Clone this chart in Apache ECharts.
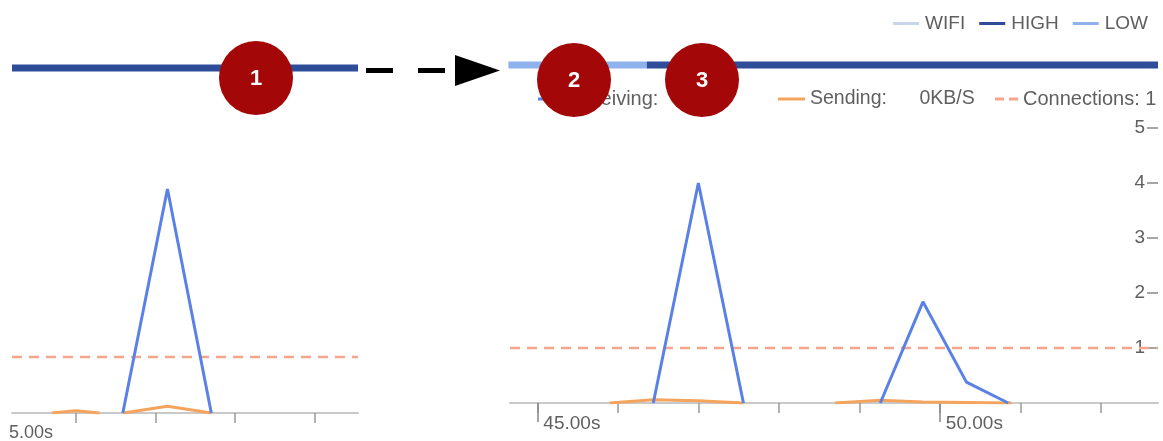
<!DOCTYPE html>
<html>
<head>
<meta charset="utf-8">
<script src="https://cdn.jsdelivr.net/npm/echarts@6/dist/echarts.min.js"></script>
<style>
  html, body { margin: 0; padding: 0; background: #fff; }
  #chart { width: 1163px; height: 441px; }
</style>
</head>
<body>
<div id="chart"></div>
<script>
// left panel (earlier time window)
const leftRange = [35.2, 39.54];
const leftTicks = [36, 37, 38, 39];
const leftRecvTimes = [36.59, 37.15, 37.7];
const leftRecvValues = [0, 4, 0];
const leftSendTimes = [35.7, 36.0, 36.3, 36.45, 36.6, 37.15, 37.7];
const leftSendValues = [0, 0.04, 0, '-', 0, 0.12, 0];
const leftHigh = [35.2, 39.54];

// right panel (later time window)
const rightRange = [44.66, 52.71];
const rightTicks = [45, 46, 47, 48, 49, 50, 51, 52];
const rightMajorTicks = [45, 50];
const rightRecvTimes = [46.44, 47.0, 47.56, 48.2, 49.26, 49.79, 50.33, 50.85];
const rightRecvValues = [0, 4, 0, '-', 0, 1.84, 0.38, 0];
const rightSendTimes = [45.9, 46.44, 47.0, 47.56, 48.2, 48.7, 49.26, 49.79, 50.33, 50.89];
const rightSendValues = [0, 0.06, 0.04, 0, '-', 0, 0.05, 0.02, 0.01, 0];
const rightLow = [44.64, 46.36];
const rightHigh = [46.36, 52.71];
const yTicks = [1, 2, 3, 4, 5];
const connections = 1;

const FONT = 'Liberation Sans';
const BLUE = '#5b80e6';
const ORANGE = '#f5a45e';
const SALMON = '#f6a58d';
const HIGH_C = '#2f4c98';
const LOW_C = '#8fb1ec';
const WIFI_C = '#c8d5e8';
const TEXT_C = '#5f5f5f';

function zip(xs, ys) {
  return xs.map((x, i) => [x, ys[i]]);
}

var myChart = echarts.init(document.getElementById('chart'));

myChart.setOption({
  animation: false,
  textStyle: { fontFamily: FONT },
  grid: [
    { left: 12, width: 346, top: 133, height: 280 },   // 左边主图
    { left: 510, right: 5, top: 128, height: 275 },    // 右边主图
    { left: 12, width: 346, top: 64, height: 8 },      // 左边状态条
    { left: 510, right: 5, top: 61, height: 8 }        // 右边状态条
  ],
  legend: [
    {
      data: ['WIFI', 'HIGH', 'LOW'],
      right: 10, top: 9,
      icon: 'rect', itemWidth: 26, itemHeight: 3, itemGap: 14,
      textStyle: { fontSize: 19, color: TEXT_C, fontFamily: FONT, padding: [0, 0, 0, 1] }
    },
    {
      data: ['Receiving'], left: 533, top: 84,
      icon: 'rect', itemWidth: 22, itemHeight: 3,
      formatter: () => 'Receiving:   0KB/S',
      textStyle: { fontSize: 20, color: TEXT_C, fontFamily: FONT }
    },
    {
      data: ['Sending'], left: 773, top: 84,
      icon: 'rect', itemWidth: 27, itemHeight: 3,
      formatter: () => 'Sending:      0KB/S',
      textStyle: { fontSize: 19.5, color: TEXT_C, fontFamily: FONT }
    },
    {
      data: ['Connections'], left: 990, top: 84,
      icon: 'path://M0,0h9v3h-9z M14,0h9v3h-9z',
      itemWidth: 23, itemHeight: 3,
      formatter: () => 'Connections: ' + connections,
      textStyle: { fontSize: 20, color: TEXT_C, fontFamily: FONT }
    }
  ],
  xAxis: [
    {
      type: 'value', gridIndex: 0, min: leftRange[0], max: leftRange[1],
      splitLine: { show: false },
      axisLine: { lineStyle: { color: '#c9c9c9', width: 2 } },
      axisTick: { customValues: leftTicks, length: 10, lineStyle: { color: '#999', width: 1.5 } },
      axisLabel: { show: false }
    },
    {
      type: 'value', gridIndex: 1, min: rightRange[0], max: rightRange[1], position: 'bottom',
      splitLine: { show: false },
      axisLine: { lineStyle: { color: '#c9c9c9', width: 2 } },
      axisTick: { customValues: rightTicks, length: 10, lineStyle: { color: '#999', width: 1.5 } },
      axisLabel: { show: false }
    },
    {
      type: 'value', gridIndex: 1, min: rightRange[0], max: rightRange[1], position: 'bottom', offset: 0,
      splitLine: { show: false },
      axisLine: { show: false },
      axisTick: { customValues: rightMajorTicks, length: 19, lineStyle: { color: '#888', width: 1.5 } },
      axisLabel: {
        customValues: rightMajorTicks,
        formatter: v => v.toFixed(2) + 's',
        align: 'left', padding: [0, 0, 0, 6], margin: 11,
        fontSize: 19, color: TEXT_C, fontFamily: FONT
      }
    },
    { type: 'value', gridIndex: 2, min: leftRange[0], max: leftRange[1], show: false },
    { type: 'value', gridIndex: 3, min: rightRange[0], max: rightRange[1], show: false }
  ],
  yAxis: [
    { type: 'value', gridIndex: 0, min: 0, max: 5, show: false },
    {
      type: 'value', gridIndex: 1, min: 0, max: 5, position: 'right',
      splitLine: { show: false },
      axisLine: { show: false },
      axisTick: { show: true, inside: true, customValues: yTicks, length: 11, lineStyle: { color: '#888', width: 1.5 } },
      axisLabel: { inside: true, customValues: yTicks, margin: 13, fontSize: 19, color: TEXT_C, fontFamily: FONT }
    },
    { type: 'value', gridIndex: 2, min: -1, max: 1, show: false },
    { type: 'value', gridIndex: 3, min: -1, max: 1, show: false }
  ],
  series: [
    // 状态条
    { name: 'WIFI', type: 'line', xAxisIndex: 4, yAxisIndex: 3, data: [], color: WIFI_C },
    {
      name: 'HIGH', type: 'line', xAxisIndex: 3, yAxisIndex: 2, symbol: 'none', color: HIGH_C,
      lineStyle: { width: 7, cap: 'butt' }, data: leftHigh.map(t => [t, 0])
    },
    {
      name: 'LOW', type: 'line', xAxisIndex: 4, yAxisIndex: 3, symbol: 'none', color: LOW_C,
      lineStyle: { width: 7, cap: 'butt' }, data: rightLow.map(t => [t, 0])
    },
    {
      name: 'HIGH', type: 'line', xAxisIndex: 4, yAxisIndex: 3, symbol: 'none', color: HIGH_C,
      lineStyle: { width: 7, cap: 'butt' }, data: rightHigh.map(t => [t, 0])
    },
    // 连接数虚线
    {
      name: 'Connections', type: 'line', xAxisIndex: 0, yAxisIndex: 0, symbol: 'none', color: SALMON,
      lineStyle: { width: 2.5, type: [10, 7] }, data: leftRange.map(t => [t, connections])
    },
    {
      name: 'Connections', type: 'line', xAxisIndex: 1, yAxisIndex: 1, symbol: 'none', color: SALMON,
      lineStyle: { width: 2.5, type: [10, 7] }, data: rightRange.map(t => [t, connections])
    },
    // 发送
    {
      name: 'Sending', type: 'line', xAxisIndex: 0, yAxisIndex: 0, symbol: 'none', color: ORANGE,
      lineStyle: { width: 3 }, data: zip(leftSendTimes, leftSendValues)
    },
    {
      name: 'Sending', type: 'line', xAxisIndex: 1, yAxisIndex: 1, symbol: 'none', color: ORANGE,
      lineStyle: { width: 3 }, data: zip(rightSendTimes, rightSendValues)
    },
    // 接收
    {
      name: 'Receiving', type: 'line', xAxisIndex: 0, yAxisIndex: 0, symbol: 'none', color: BLUE,
      lineStyle: { width: 3 }, data: zip(leftRecvTimes, leftRecvValues)
    },
    {
      name: 'Receiving', type: 'line', xAxisIndex: 1, yAxisIndex: 1, symbol: 'none', color: BLUE,
      lineStyle: { width: 3 }, data: zip(rightRecvTimes, rightRecvValues)
    }
  ],
  graphic: [
    // 左边被裁掉的时间标签
    {
      type: 'text', left: 9, top: 424, z: 10,
      style: { text: '5.00s', font: '18px ' + FONT, fill: TEXT_C }
    },
    // 虚线箭头
    { type: 'rect', shape: { x: 366, y: 68, width: 27, height: 5 }, style: { fill: '#000' }, z: 10 },
    { type: 'rect', shape: { x: 418, y: 68, width: 27, height: 5 }, style: { fill: '#000' }, z: 10 },
    { type: 'polygon', shape: { points: [[455, 55], [500, 70.5], [455, 86]] }, style: { fill: '#000' }, z: 10 },
    // 编号圆圈
    { type: 'circle', shape: { cx: 256, cy: 78, r: 37 }, style: { fill: '#a30707' }, z: 20 },
    { type: 'text', x: 256, y: 79, z: 21, style: { text: '1', align: 'center', verticalAlign: 'middle', font: 'bold 22px ' + FONT, fill: '#fff' } },
    { type: 'circle', shape: { cx: 574, cy: 80, r: 37 }, style: { fill: '#a30707' }, z: 20 },
    { type: 'text', x: 574, y: 81, z: 21, style: { text: '2', align: 'center', verticalAlign: 'middle', font: 'bold 22px ' + FONT, fill: '#fff' } },
    { type: 'circle', shape: { cx: 702, cy: 80, r: 37 }, style: { fill: '#a30707' }, z: 20 },
    { type: 'text', x: 702, y: 81, z: 21, style: { text: '3', align: 'center', verticalAlign: 'middle', font: 'bold 22px ' + FONT, fill: '#fff' } }
  ]
});
</script>
</body>
</html>
